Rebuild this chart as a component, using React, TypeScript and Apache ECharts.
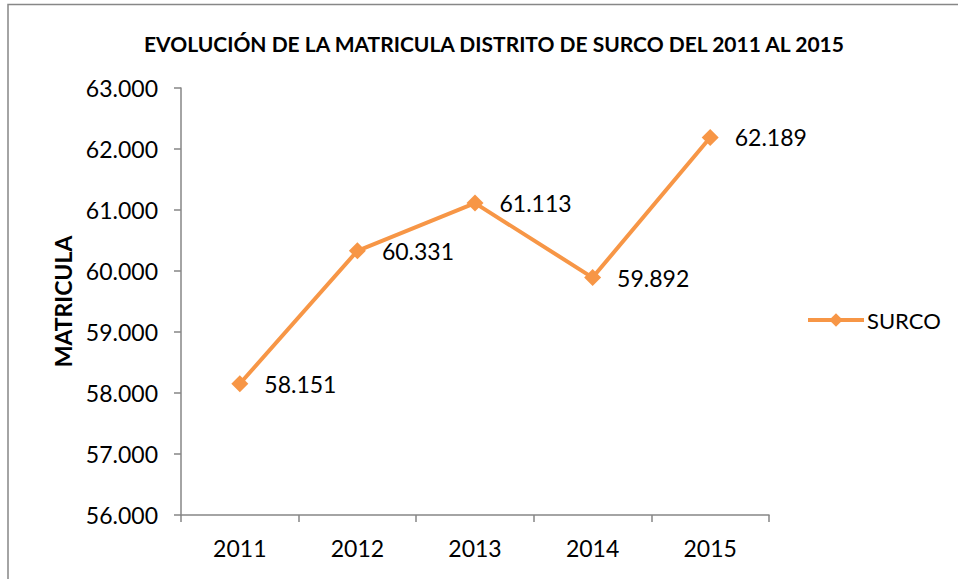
import React, { useEffect, useRef } from "react";
import * as echarts from "echarts";

const categories = ["2011", "2012", "2013", "2014", "2015"];
const surcoValues = [58151, 60331, 61113, 59892, 62189];
const seriesName = "SURCO";
const titleText = "EVOLUCIÓN DE LA MATRICULA DISTRITO DE SURCO DEL 2011 AL 2015";
const yAxisName = "MATRICULA";

const fmt = (v: number) => {
  const s = Math.round(v).toString();
  return s.replace(/\B(?=(\d{3})+(?!\d))/g, ".");
};

const FONT = "Lato, 'Open Sans', sans-serif";

export default function App() {
  const ref = useRef<HTMLDivElement>(null);
  useEffect(() => {
    if (!ref.current) return;
    const chart = echarts.init(ref.current, undefined, { renderer: "svg" });
    chart.setOption({
      animation: false,
      backgroundColor: "#ffffff",
      title: {
        text: titleText,
        left: 489,
        textAlign: "center",
        top: 28,
        textStyle: { fontFamily: FONT, fontWeight: "bold", fontSize: 21, color: "#000" },
      },
      graphic: [
        {
          type: "rect",
          shape: { x: 8, y: 4.5, width: 1000, height: 700 },
          style: { fill: "none", stroke: "#878787", lineWidth: 1.5 },
          silent: true,
        },
      ],
      legend: {
        data: [seriesName],
        left: 806,
        top: 309,
        padding: 0,
        itemWidth: 56,
        itemHeight: 17,
        itemGap: 0,
        lineStyle: { width: 4 },
        textStyle: { fontFamily: FONT, fontSize: 22, color: "#000", padding: [0, 0, 0, -2] },
      },
      grid: { left: 181, right: 189, top: 88, bottom: 64, containLabel: false },
      xAxis: {
        type: "category",
        data: categories,
        boundaryGap: true,
        axisLine: { lineStyle: { color: "#868686", width: 1.5 } },
        axisTick: { show: true, length: 7, lineStyle: { color: "#868686", width: 1.5 } },
        axisLabel: { fontFamily: FONT, fontSize: 23, color: "#000", margin: 21 },
      },
      yAxis: {
        type: "value",
        min: 56000,
        max: 63000,
        interval: 1000,
        name: yAxisName,
        nameLocation: "middle",
        nameGap: 107,
        nameTextStyle: { fontFamily: FONT, fontWeight: "bold", fontSize: 23, color: "#000" },
        splitLine: { show: false },
        axisLine: { show: true, lineStyle: { color: "#868686", width: 1.5 } },
        axisTick: { show: true, length: 7, lineStyle: { color: "#868686", width: 1.5 } },
        axisLabel: {
          fontFamily: FONT,
          fontSize: 23,
          color: "#000",
          margin: 23,
          formatter: (v: number) => fmt(v),
        },
      },
      series: [
        {
          name: seriesName,
          type: "line",
          data: surcoValues,
          symbol: "diamond",
          symbolSize: 17,
          itemStyle: { color: "#F79646" },
          lineStyle: { color: "#F79646", width: 4 },
          label: {
            show: true,
            position: "right",
            distance: 16,
            fontFamily: FONT,
            fontSize: 23,
            color: "#000",
            formatter: (p: any) => fmt(p.value),
          },
        },
      ],
    });
    return () => chart.dispose();
  }, []);
  return (
    <div
      ref={ref}
      style={{ position: "fixed", left: 0, top: 0, width: 958, height: 579, background: "#fff" }}
    />
  );
}
